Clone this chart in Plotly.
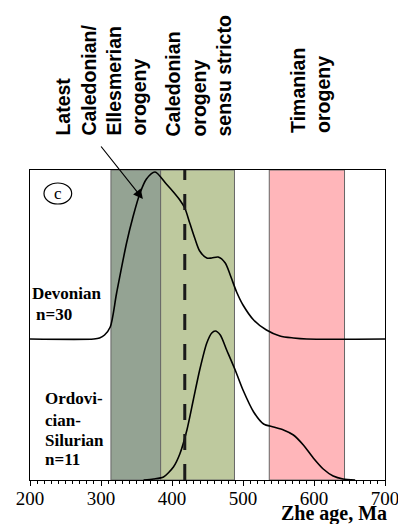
import plotly.graph_objects as go

# ---- data ----
dev_age = [200, 290, 298, 305, 313, 322, 336, 345, 355, 364, 376, 392, 402,
           411, 418, 425, 432, 439, 449, 456, 465, 475, 482, 491, 500, 515, 533, 552,
           571, 590, 700]
dev_dens = [0, 0, 1, 4, 12, 46, 96, 122, 146, 160, 167, 155, 147,
            139, 131, 116, 101, 88, 81, 81, 82, 76, 64, 47, 34, 19, 9, 3,
            1, 0, 0]

ord_age = [360, 374, 388, 402, 411, 421, 430, 439, 449, 456, 461, 468, 477, 489, 500,
           515, 529, 543, 557, 571, 585, 599, 613, 627, 641, 658]
ord_dens = [0, 1, 3, 13, 26, 50, 80, 110, 137, 147, 149, 145, 130, 110, 90,
            68, 56, 53, 50, 45, 35, 22, 11, 4, 1, 0]

dev_offset = 141

bands = [
    (314, 384, "#94a393"),   # Latest Caledonian / Ellesmerian
    (384, 488, "#bec99e"),   # Caledonian sensu stricto
    (537, 643, "#ffb6ba"),   # Timanian
]
boundary_age = 418

tick_vals = [200, 300, 400, 500, 600, 700]
tick_text = ["200", "300", "400", "500", "600", "700"]

top_labels = [
    ("Latest<br>Caledonian/<br>Ellesmerian<br>orogeny", 300, 1.103),
    ("Caledonian<br>orogeny<br>sensu stricto", 438, 1.103),
    ("Timanian<br>orogeny", 595, 1.113),
]

fig = go.Figure()

fig.add_trace(go.Scatter(
    x=dev_age, y=[d + dev_offset for d in dev_dens], mode="lines",
    line=dict(color="black", width=1.6, shape="spline", smoothing=0.8),
    hoverinfo="skip", showlegend=False))
fig.add_trace(go.Scatter(
    x=ord_age, y=ord_dens, mode="lines",
    line=dict(color="black", width=1.6, shape="spline", smoothing=0.7),
    hoverinfo="skip", showlegend=False))

shapes = []
for x0, x1, col in bands:
    shapes.append(dict(type="rect", xref="x", yref="paper", x0=x0, x1=x1, y0=0, y1=1,
                       fillcolor=col, line=dict(color="#666666", width=1), layer="below"))
shapes.append(dict(type="line", xref="x", yref="paper", x0=boundary_age, x1=boundary_age,
                   y0=0, y1=1, line=dict(color="#1a1a1a", width=3, dash="16px,14px")))
shapes.append(dict(type="circle", xref="x", yref="y", x0=219.7, x1=258.7, y0=276, y1=297,
                   line=dict(color="black", width=1.2)))

annotations = []
for txt, xa, ya in top_labels:
    annotations.append(dict(text=txt, x=xa, y=ya, xref="x", yref="paper",
                            xanchor="center", yanchor="bottom", textangle=-90,
                            align="left", showarrow=False,
                            font=dict(family="Liberation Sans, Arial", size=19.5,
                                      color="black", weight="bold")))

serif_b = dict(family="Liberation Serif, Times New Roman", size=17, color="black", weight="bold")
annotations += [
    dict(text="c", x=239.2, y=286.5, xref="x", yref="y", showarrow=False,
         font=dict(family="Liberation Serif", size=17, color="black")),
    dict(text="Devonian", x=200, y=480 - 293, xref="x", yref="y", xanchor="left",
         yanchor="middle", showarrow=False, font=serif_b),
    dict(text="n=30", x=205.5, y=480 - 314, xref="x", yref="y", xanchor="left",
         yanchor="middle", showarrow=False, font=serif_b),
    dict(text="Ordovi-", x=218, y=480 - 398, xref="x", yref="y", xanchor="left",
         yanchor="middle", showarrow=False, font=serif_b),
    dict(text="cian-", x=218, y=480 - 420, xref="x", yref="y", xanchor="left",
         yanchor="middle", showarrow=False, font=serif_b),
    dict(text="Silurian", x=218, y=480 - 440, xref="x", yref="y", xanchor="left",
         yanchor="middle", showarrow=False, font=serif_b),
    dict(text="n=11", x=218, y=480 - 459, xref="x", yref="y", xanchor="left",
         yanchor="middle", showarrow=False, font=serif_b),
    dict(text="Zhe age, Ma", x=1.008, y=-0.1065, xref="paper", yref="paper",
         xanchor="right", yanchor="middle", showarrow=False, borderpad=0,
         font=dict(family="Liberation Serif", size=20, color="black", weight="bold")),
    dict(text="", x=359, y=281, xref="x", yref="y", ax=-43, ay=-54,
         showarrow=True, arrowhead=2, arrowsize=1.6, arrowwidth=1.2, arrowcolor="black"),
]

fig.update_layout(
    width=398, height=524,
    margin=dict(l=30, r=13, t=170, b=44),
    paper_bgcolor="white", plot_bgcolor="white",
    shapes=shapes, annotations=annotations,
    xaxis=dict(range=[200, 700], tickvals=tick_vals, ticktext=tick_text,
               ticks="outside", ticklen=5, tickwidth=1, tickcolor="black",
               showline=True, linecolor="black", linewidth=1.2, mirror=True,
               showgrid=False, zeroline=False, ticklabeloverflow="allow",
               ticklabelstandoff=-4, automargin=False,
               tickfont=dict(family="Liberation Serif", size=19, color="black"),
               minor=dict(dtick=10, tick0=200, ticks="outside", ticklen=2.5,
                          tickcolor="black", showgrid=False)),
    yaxis=dict(range=[0, 310], showticklabels=False, ticks="", showgrid=False,
               automargin=False,
               zeroline=False, showline=True, linecolor="black", linewidth=1.2, mirror=True),
)

fig.write_html("out.html", config={"displayModeBar": False},
               post_script="document.body.style.margin='0';document.body.style.overflow='hidden';")
